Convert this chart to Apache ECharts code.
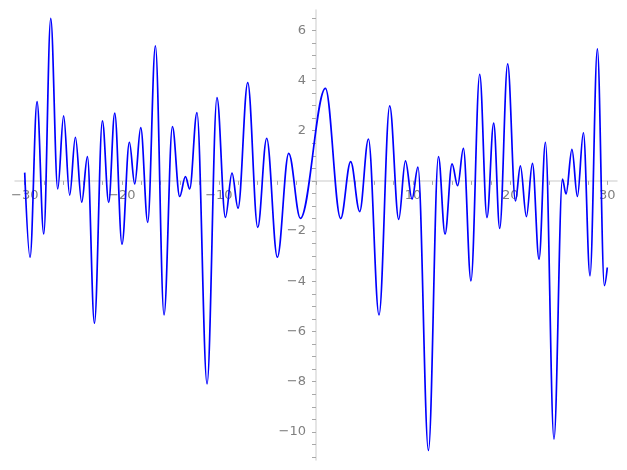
<!DOCTYPE html>
<html>
<head>
<meta charset="utf-8">
<script src="https://cdn.jsdelivr.net/npm/echarts@6/dist/echarts.min.js"></script>
<style>
html,body{margin:0;padding:0;background:#fff;}
#chart{width:627px;height:470px;}
</style>
</head>
<body>
<div id="chart"></div>
<script>
// Curve samples (local extrema plus the two ends)
const xVals = [
  -30.0, -29.45, -28.73, -28.04, -27.32, -26.60, -25.99, -25.37, -24.78, -24.13,
  -23.54, -22.82, -22.00, -21.35, -20.73, -19.98, -19.22, -18.67, -18.05, -17.33,
  -16.54, -15.65, -14.79, -14.04, -13.45, -13.01, -12.26, -11.22, -10.20, -9.33,
  -8.65, -8.03, -7.03, -6.00, -5.08, -3.98, -2.81, -1.61, 0.97, 2.54,
  3.57, 4.50, 5.40, 6.49, 7.59, 8.52, 9.21, 9.89, 10.50, 11.58,
  12.61, 13.29, 14.01, 14.59, 15.18, 15.96, 16.86, 17.61, 18.30, 18.92,
  19.74, 20.54, 21.05, 21.67, 22.29, 22.97, 23.63, 24.51, 25.38, 25.75,
  26.36, 26.92, 27.54, 28.22, 28.98, 29.70, 30.0
];
const yVals = [
  0.33, -3.04, 3.16, -2.11, 6.48, -0.32, 2.59, -0.57, 1.74, -0.85,
  0.97, -5.67, 2.39, -0.86, 2.70, -2.52, 1.54, -0.12, 2.12, -1.65,
  5.38, -5.34, 2.16, -0.62, 0.17, -0.32, 2.72, -8.09, 3.32, -1.45,
  0.31, -1.09, 3.92, -1.85, 1.70, -3.04, 1.10, -1.49, 3.69, -1.50,
  0.77, -1.22, 1.67, -5.34, 2.99, -1.53, 0.80, -0.72, 0.55, -10.74,
  0.97, -2.12, 0.68, -0.19, 1.30, -3.98, 4.25, -1.46, 2.30, -1.89,
  4.66, -0.80, 0.60, -1.42, 0.70, -3.12, 1.54, -10.29, 0.07, -0.52,
  1.26, -0.62, 1.92, -3.78, 5.26, -4.17, -3.45
];
// Axis ticks and labels
const xTickLabels = [-30, -20, -10, 10, 20, 30];
const xTicks = [-30,-28,-26,-24,-22,-20,-18,-16,-14,-12,-10,-8,-6,-4,-2,0,2,4,6,8,10,12,14,16,18,20,22,24,26,28,30];
const yTickLabels = [-10, -8, -6, -4, -2, 2, 4, 6];
const yTicks = [-11,-10.5,-10,-9.5,-9,-8.5,-8,-7.5,-7,-6.5,-6,-5.5,-5,-4.5,-4,-3.5,-3,-2.5,-2,-1.5,-1,-0.5,0,0.5,1,1.5,2,2.5,3,3.5,4,4.5,5,5.5,6,6.5];

const data = xVals.map((x, i) => [x, yVals[i]]);
const fmt = v => String(v).replace('-', '\u2212');

const chart = echarts.init(document.getElementById('chart'), null, {renderer: 'canvas'});
chart.setOption({
  animation: false,
  backgroundColor: '#ffffff',
  grid: {left: 15, width: 602, top: 10, height: 450, containLabel: false, outerBoundsMode: 'none'},
  xAxis: {
    type: 'value', min: -31, max: 31, position: 'bottom', offset: -279.1,
    axisLine: {onZero: false, lineStyle: {color: '#dcdcdc', width: 1.5}},
    axisTick: {show: true, customValues: xTicks, length: 4, lineStyle: {color: '#a8a8a8', width: 1}},
    axisLabel: {customValues: xTickLabels, formatter: fmt, color: '#808080', fontSize: 13,
      fontFamily: 'DejaVu Sans', margin: 8},
    splitLine: {show: false}
  },
  yAxis: {
    type: 'value', min: -11.12, max: 6.81, position: 'left', offset: -301,
    axisLine: {show: true, onZero: false, lineStyle: {color: '#dcdcdc', width: 1.5}},
    axisTick: {show: true, customValues: yTicks, length: 4, lineStyle: {color: '#a8a8a8', width: 1}},
    axisLabel: {customValues: yTickLabels, formatter: fmt, color: '#808080', fontSize: 13,
      fontFamily: 'DejaVu Sans', margin: 10},
    splitLine: {show: false}
  },
  series: [{
    type: 'line', data: data, showSymbol: false, symbol: 'none',
    smooth: 0.36, smoothMonotone: 'x',
    lineStyle: {color: '#0000ff', width: 1.7},
    z: 3
  }]
});
</script>
</body>
</html>
